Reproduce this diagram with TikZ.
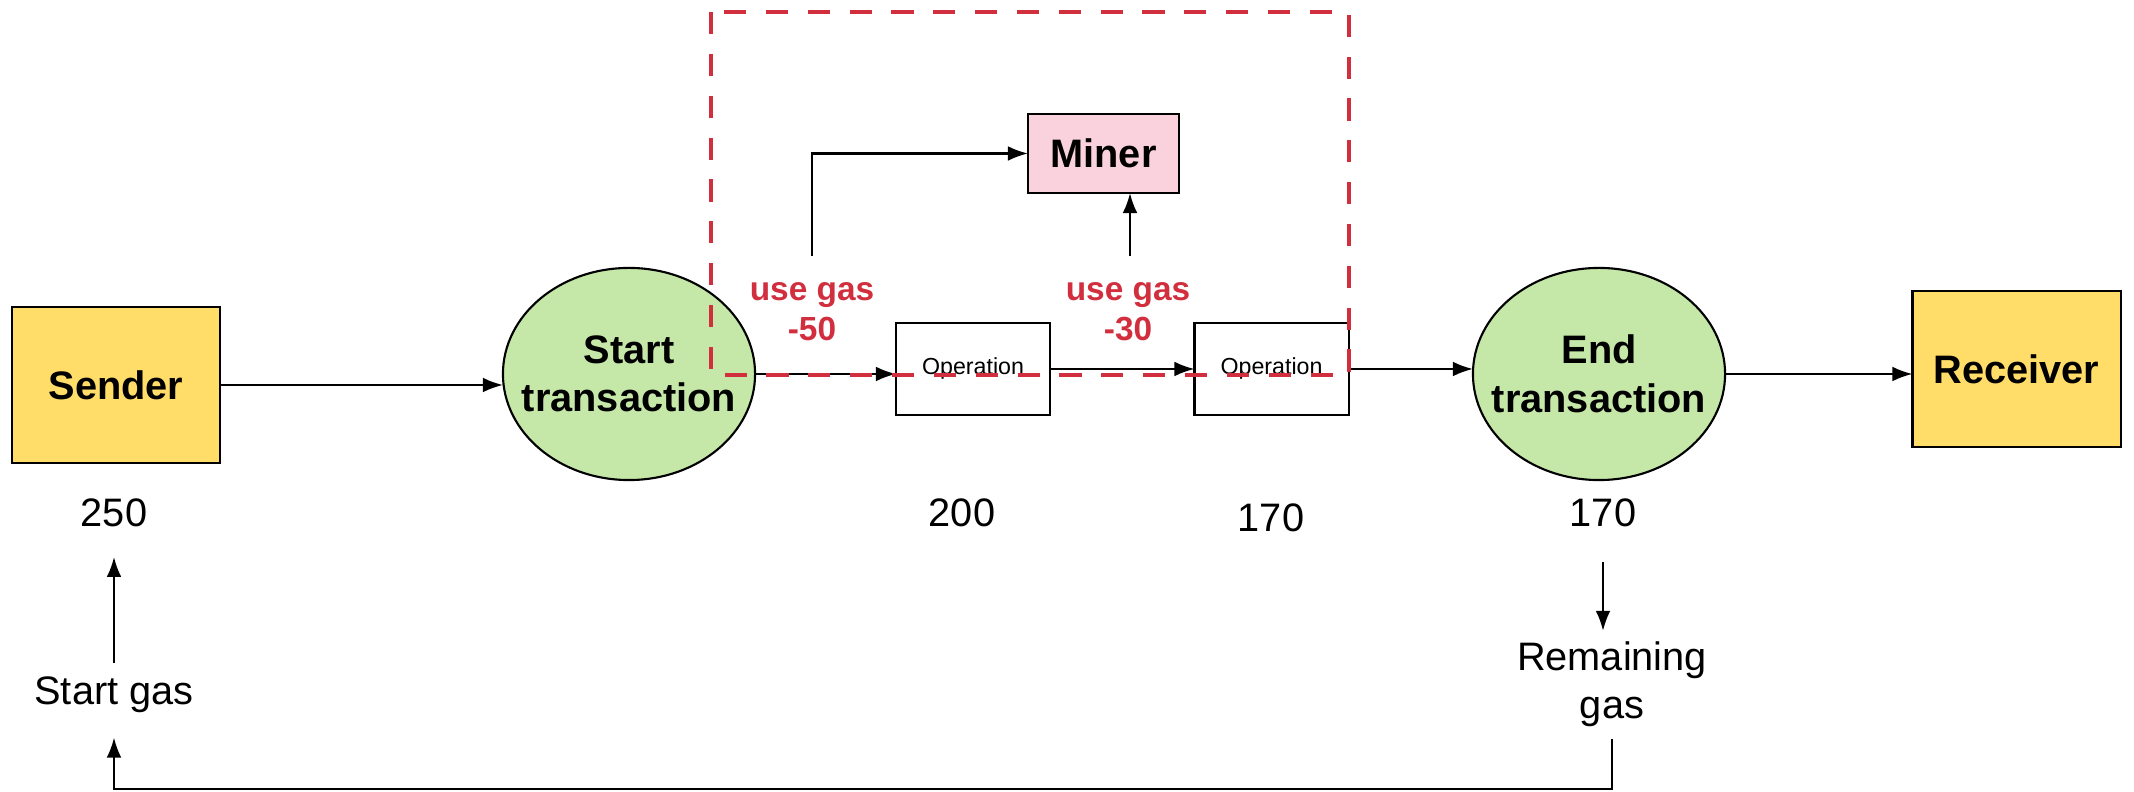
\documentclass[tikz,border=0pt]{standalone}
\usepackage{fontspec}
\setmainfont{Liberation Sans}
\usetikzlibrary{arrows.meta,shapes.geometric}
\definecolor{yel}{HTML}{FFDD68}
\definecolor{grn}{HTML}{C5E8A9}
\definecolor{pnk}{HTML}{F9D2DD}
\definecolor{rd}{HTML}{D12E3E}
\tikzset{
  base/.style={inner sep=0pt,outer sep=0pt,line width=0.6pt,align=center,font=\fontsize{11.3}{13.7}\selectfont},
  bigbox/.style={base,draw,fill=yel,minimum width=2.08cm,minimum height=1.56cm,font=\fontsize{11.3}{13.7}\selectfont\bfseries},
  oval/.style={base,draw,ellipse,fill=grn,inner xsep=-5.2pt,inner ysep=0pt,minimum width=2.52cm,minimum height=2.12cm,font=\fontsize{11.3}{13.8}\selectfont\bfseries},
  opbox/.style={base,draw,fill=white,minimum width=1.54cm,minimum height=0.92cm,font=\fontsize{6.6}{8}\selectfont},
  minerbox/.style={base,draw,fill=pnk,minimum width=1.51cm,minimum height=0.79cm,font=\fontsize{11.3}{13.7}\selectfont\bfseries},
  lbl/.style={base},
  redlbl/.style={base,text=rd,font=\fontsize{9.5}{11.4}\selectfont\bfseries},
  arr/.style={line width=0.6pt,-{Latex[length=5.7pt,width=4.2pt]}},
  reddash/.style={draw=rd,line width=1.4pt,dash pattern=on 6.3pt off 5.6pt}
}
\begin{document}
\begin{tikzpicture}[x=0.01cm,y=-0.01cm]
\useasboundingbox (0,0) rectangle (2134,792);
% main nodes
\node[bigbox] (sender) at (116,385) {Sender};
\node[oval] (start) at (629,374) {Start\\transaction};
\node[opbox] (op1) at (973,369) {Operation};
\node[opbox] (op2) at (1271.5,369) {Operation};
\node[oval] (end) at (1599,374) {End\\transaction};
\node[bigbox] (receiver) at (2016.5,369) {Receiver};
\node[minerbox] (miner) at (1103.5,153.5) {Miner};
% labels
\node[lbl] (n250) at (114,513) {250};
\node[lbl] (n200) at (962,513) {200};
\node[lbl] (n170a) at (1271,518) {170};
\node[lbl] (n170b) at (1603,513) {170};
\node[lbl] (sg) at (114,695) {Start gas};
\node[lbl] (rem) at (1612,684) {Remaining\\gas};
\node[redlbl] (ug1) at (812,312) {use gas\\-50};
\node[redlbl] (ug2) at (1128,312) {use gas\\-30};
\coordinate (u1) at (812,256);
\coordinate (u2) at (1130,256);
\coordinate (bot) at (0,789);
% connectors
\draw[arr] (sender.east) -- (sender.east -| start.west);
\draw[arr] (start.east) -- (start.east -| op1.west);
\draw[arr] (op1.east) -- (op2.west);
\draw[arr] (op2.east) -- (op2.east -| end.west);
\draw[arr] (end.east) -- (end.east -| receiver.west);
\draw[arr] (u1) |- (miner.west);
\draw[arr] (u2) -- (u2 |- miner.south);
\draw[arr,shorten <=4pt,shorten >=8.5pt] (sg.north) -- (n250.south);
\draw[arr,shorten <=10pt,shorten >=3pt] (n170b.south) -- (n170b.south |- rem.north);
\draw[arr,shorten >=7pt] ([yshift=-3.4pt]rem.south) -- (rem.south |- bot) -| (sg.south);
% group frame
\draw[reddash] (711,12) rectangle (1349,375);
\end{tikzpicture}
\end{document}
